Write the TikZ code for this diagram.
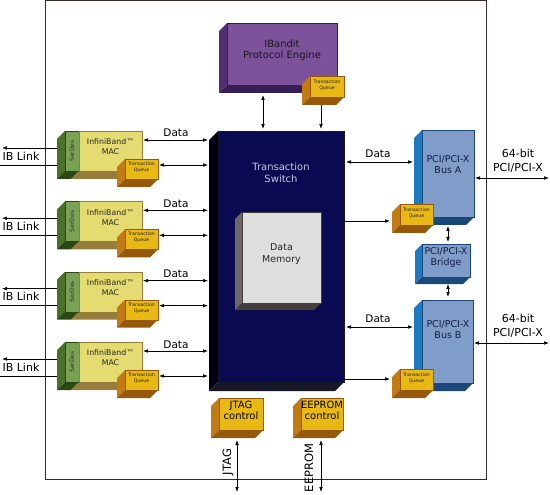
\documentclass[tikz,border=0pt]{standalone}
\usepackage{fontspec}
\setmainfont{DejaVu Sans}
\usetikzlibrary{arrows.meta,fit}
\definecolor{framec}{RGB}{55,40,40}
\definecolor{macfront}{RGB}{228,220,112}
\definecolor{macbot}{RGB}{150,125,60}
\definecolor{serfront}{RGB}{122,162,86}
\definecolor{grside}{RGB}{74,112,42}
\definecolor{grbot}{RGB}{42,72,22}
\definecolor{tqfront}{RGB}{232,184,20}
\definecolor{tqside}{RGB}{196,122,18}
\definecolor{tqbot}{RGB}{150,88,10}
\definecolor{swfront}{RGB}{10,10,82}
\definecolor{swside}{RGB}{0,0,18}
\definecolor{swbot}{RGB}{24,24,40}
\definecolor{memfront}{RGB}{222,222,222}
\definecolor{memside}{RGB}{112,102,100}
\definecolor{membot}{RGB}{70,62,60}
\definecolor{ibfront}{RGB}{124,82,154}
\definecolor{ibside}{RGB}{80,46,112}
\definecolor{ibbot}{RGB}{56,30,86}
\definecolor{pcifront}{RGB}{128,156,200}
\definecolor{pciside}{RGB}{30,122,192}
\definecolor{pcibot}{RGB}{26,72,122}
\definecolor{pcitext}{RGB}{20,30,70}
\definecolor{swtext}{RGB}{200,200,215}
% #1 name, #2 x1, #3 y1, #4 x2, #5 y2, #6 depth, #7 colour prefix, #8 text, #9 options
\newcommand\cube[9]{%
  \fill[#7side] (#2,#3) -- ++(-#6,#6) -- ++(0,{(#5)-(#3)}) -- ++(#6,-#6) -- cycle;
  \fill[#7bot] (#2,#5) -- (#4,#5) -- ++(-#6,#6) -- ++({(#2)-(#4)},0) -- cycle;
  \node[fit={(#2,#3) (#4,#5)}, inner sep=0pt, outer sep=0pt, fill=#7front, draw=#7bot, line width=0.3pt, align=center, #9] (#1) {#8};
  \coordinate (#1-side) at ({(#2)-(#6)},{((#3)+(#5))/2+(#6)});
  \coordinate (#1-bot) at ({((#2)+(#4))/2-(#6)},{(#5)+(#6)});
}
\tikzset{
  lbl/.style={font=\fontsize{11}{14}\selectfont, inner sep=0pt, align=center},
  dlbl/.style={font=\fontsize{10.5}{12}\selectfont, inner sep=0pt, anchor=base},
  dbl/.style={line width=0.6pt, {Latex[length=5pt,width=3.6pt]}-{Latex[length=5pt,width=3.6pt]}},
  one/.style={line width=0.6pt, -{Latex[length=5pt,width=3.6pt]}},
  plainline/.style={line width=0.6pt},
  tqt/.style={font=\fontsize{4.7}{6}\selectfont, text=black!85},
  pcit/.style={font=\fontsize{9.5}{11}\selectfont, text=pcitext, align=center, inner sep=0pt},
  ctlt/.style={font=\fontsize{10}{11.5}\selectfont, text=black},
  mact/.style={font=\fontsize{7.8}{10}\selectfont, text=black!85, align=center, inner sep=0pt},
  sert/.style={font=\fontsize{6}{6}\selectfont, text=black!80, rotate=90, inner sep=0pt},
}
\begin{document}
\begin{tikzpicture}[x=1pt, y=-1pt]
\useasboundingbox (0,0) rectangle (550,495);
\fill[white] (0,0) rectangle (550,495);
\draw[framec, line width=1pt] (45,0.5) rectangle (486.5,479);

% IBandit protocol engine
\cube{ibe}{227}{23}{337}{85}{8}{ib}{IBandit\\Protocol Engine}{font=\fontsize{10}{11.6}\selectfont, text=black!90}
\cube{tqi}{310}{76}{344}{97}{8}{tq}{Transaction\\Queue}{tqt}

% Transaction switch
\cube{sw}{218}{131}{344}{382}{9}{sw}{}{}
\node[font=\fontsize{10}{11.5}\selectfont, text=swtext, align=center, inner sep=0pt] (swt) at (281,173) {Transaction\\Switch};
\cube{mem}{242}{212}{321}{303}{7}{mem}{Data\\Memory}{font=\fontsize{9.5}{11.5}\selectfont, text=black!85}

\draw[dbl, shorten <=2pt, shorten >=2pt] (ibe-bot -| 263,0) -- (sw.north -| 263,0);
\draw[one, shorten >=2pt] (tqi-bot -| 321,0) -- (sw.north -| 321,0);

% MAC blocks
\foreach \i/\t in {1/131,2/201.3,3/271.7,4/342}{
  \fill[grside] (65,\t) -- ++(-8,8) -- ++(0,40) -- ++(8,-8) -- cycle;
  \fill[grbot] (65,\t+40) -- (79,\t+40) -- ++(-8,8) -- ++(-14,0) -- cycle;
  \fill[macbot] (79,\t+40) -- (142,\t+40) -- ++(-8,8) -- ++(-63,0) -- cycle;
  \node[fit={(65,\t) (79,\t+40)}, inner sep=0pt, outer sep=0pt, fill=serfront, draw=grbot, line width=0.3pt] (ser\i) {};
  \node[sert] (sert\i) at (ser\i) {SerDes};
  \node[fit={(79,\t) (142,\t+40)}, inner sep=0pt, outer sep=0pt, fill=macfront, draw=macbot, line width=0.3pt] (mac\i) {};
  \node[mact] (mact\i) at (110.5,\t+16) {InfiniBand™\\MAC};
  \cube{tq\i}{125}{\t+28}{158}{\t+48}{8}{tq}{Transaction\\Queue}{tqt}
  \coordinate (sd\i) at (57,\t+24);
  \coordinate (ibA\i) at (2,\t+17);
  \coordinate (ibB\i) at (0,\t+34);
  \draw[one] (sd\i |- ibA\i) -- (ibA\i);
  \draw[plainline] (sd\i |- ibB\i) -- (ibB\i);
  \node[lbl] (ibl\i) at (21,\t+25) {IB Link};
  \draw[dbl, shorten <=1pt, shorten >=1pt] (mac\i.east |- 0,\t+9) -- (sw-side |- 0,\t+9);
  \node[dlbl] (dl\i) at (176,\t+6) {Data};
  \draw[dbl, shorten <=1pt, shorten >=1pt] (tq\i.east |- 0,\t+34) -- (sw-side |- 0,\t+34);
}

% PCI side
\cube{busA}{422}{130}{474}{217}{8}{pci}{}{}
\node[pcit] (busAt) at (448,165) {PCI/PCI-X\\Bus A};
\cube{tqA}{400}{204}{433}{225}{8}{tq}{Transaction\\Queue}{tqt}
\cube{brg}{422}{244}{470}{277}{7}{pci}{PCI/PCI-X\\Bridge}{pcit}
\cube{busB}{422}{300}{473}{383}{8}{pci}{}{}
\node[pcit] (busBt) at (448,329.5) {PCI/PCI-X\\Bus B};
\cube{tqB}{400}{369}{433}{390}{8}{tq}{Transaction\\Queue}{tqt}

\draw[dbl, shorten <=2pt, shorten >=1pt] (sw.east |- 0,162) -- (busA-side |- 0,162);
\node[dlbl] (dA) at (378,158) {Data};
\draw[one, shorten <=0pt, shorten >=2pt] (sw.east |- 0,221) -- (tqA-side |- 0,221);
\draw[dbl, shorten <=2pt, shorten >=1pt] (sw.east |- 0,327) -- (busB-side |- 0,327);
\node[dlbl] (dB) at (378,323) {Data};
\draw[one, shorten >=2pt] (sw.east |- 0,379) -- (tqB-side |- 0,379);

\draw[dbl, shorten <=1pt, shorten >=2pt] (busA-bot -| busA.south) -- (brg.north -| busA.south);
\draw[dbl, shorten <=0pt, shorten >=3pt] (brg-bot -| busA.south) -- (busB.north -| busA.south);

\coordinate (pA) at (549,178);
\coordinate (pB) at (549,343);
\draw[dbl, shorten <=1pt] (busA.east |- pA) -- (pA);
\draw[dbl, shorten <=1pt] (busB.east |- pB) -- (pB);
\node[lbl] (pAt) at (518,161) {64-bit\\PCI/PCI-X};
\node[lbl] (pBt) at (518,326) {64-bit\\PCI/PCI-X};

% JTAG / EEPROM
\cube{jtag}{219}{398}{263}{430}{8}{tq}{JTAG\\control}{ctlt}
\cube{eep}{301}{398}{343}{430}{8}{tq}{EEPROM\\control}{ctlt}
\coordinate (jE) at (237,492);
\coordinate (eE) at (321,492);
\draw[dbl, shorten <=2pt] (jtag-bot -| jE) -- (jE);
\draw[dbl, shorten <=2pt] (eep-bot -| eE) -- (eE);
\node[lbl, rotate=90, font=\fontsize{11.5}{12}\selectfont] (jl) at (228,462) {JTAG};
\node[lbl, rotate=90, font=\fontsize{11.5}{12}\selectfont] (el) at (309,468) {EEPROM};
\end{tikzpicture}
\end{document}
